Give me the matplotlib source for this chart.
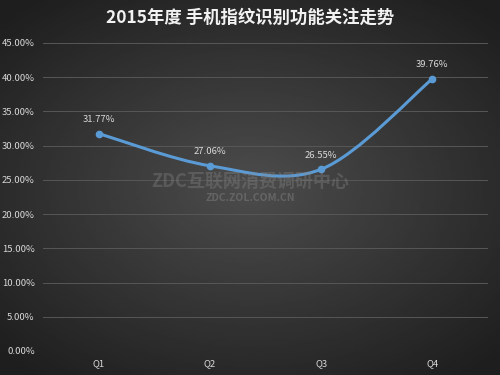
#!/usr/bin/env python3
"""
2015年度 手机指纹识别功能关注走势
"""
import matplotlib
matplotlib.use('Agg')
import matplotlib.pyplot as plt
import numpy as np
from matplotlib.path import Path
from matplotlib.patches import PathPatch

plt.rcParams['font.family'] = ['Noto Sans CJK SC', 'DejaVu Sans']

quarters = ['Q1', 'Q2', 'Q3', 'Q4']
share = [31.77, 27.06, 26.55, 39.76]
y_ticks = [0, 5, 10, 15, 20, 25, 30, 35, 40, 45]

LINE = '#5b9bd5'
TXT = '#d9d9d9'


def smooth_path(xs, ys, t=1 / 6):
    # Excel 風の平滑線 (Catmull-Rom -> Bezier)
    pts = list(zip(xs, ys))
    verts = [pts[0]]
    codes = [Path.MOVETO]
    n = len(pts)
    for i in range(n - 1):
        p0 = pts[i - 1] if i > 0 else pts[i]
        p1 = pts[i]
        p2 = pts[i + 1]
        p3 = pts[i + 2] if i + 2 < n else pts[i + 1]
        c1 = (p1[0] + (p2[0] - p0[0]) * t, p1[1] + (p2[1] - p0[1]) * t)
        c2 = (p2[0] - (p3[0] - p1[0]) * t, p2[1] - (p3[1] - p1[1]) * t)
        verts += [c1, c2, p2]
        codes += [Path.CURVE4] * 3
    return Path(verts, codes)


fig = plt.figure(figsize=(5, 3.75), dpi=100)

# 背景のグラデーション
bg = fig.add_axes([0, 0, 1, 1], zorder=0)
yy, xx = np.mgrid[-1:1:200j, -1:1:200j]
r = np.sqrt(xx ** 2 + (yy * 1.1) ** 2)
bg.imshow(0.30 - 0.18 * np.clip(r, 0, 1.4) / 1.4, cmap='gray', vmin=0, vmax=1,
          aspect='auto', extent=[0, 1, 0, 1])
bg.axis('off')

ax = fig.add_axes([43 / 500, 1 - 351 / 375, 445 / 500, 308 / 375], zorder=1)
ax.patch.set_alpha(0)
x = np.arange(len(quarters))

ax.add_patch(PathPatch(smooth_path(x, share), facecolor='none', edgecolor=LINE,
                       linewidth=2.2, zorder=3))
ax.plot(x, share, 'o', color=LINE, markersize=4.5, zorder=4)
for xi, v in zip(x, share):
    ax.annotate(f'{v:.2f}%', (xi, v), xytext=(0, 7), textcoords='offset points',
                ha='center', va='bottom', color=TXT, fontsize=6.8)

ax.set_xlim(-0.5, 3.5)
ax.set_ylim(0, 45)
ax.set_xticks(x)
ax.set_xticklabels(quarters)
ax.set_yticks(y_ticks)
ax.set_yticklabels([f'{v:.2f}%' for v in y_ticks])
ax.tick_params(colors=TXT, labelsize=6.8, length=0, pad=6)
ax.grid(axis='y', color='#575757', linewidth=0.7)
ax.set_axisbelow(True)
for s in ax.spines.values():
    s.set_visible(False)

fig.text(0.5, 1 - 18 / 375, '2015年度 手机指纹识别功能关注走势', ha='center',
         va='center', color='#f2f2f2', fontsize=12.5, fontweight='bold')

# 透かし
fig.text(0.5, 1 - 181 / 375, 'ZDC互联网消费调研中心', ha='center', va='center',
         color='#888888', alpha=0.35, fontsize=13, fontweight='bold')
fig.text(0.5, 1 - 198 / 375, 'ZDC.ZOL.COM.CN', ha='center', va='center',
         color='#888888', alpha=0.45, fontsize=7.5, fontweight='bold')

fig.savefig('out.png', dpi=100)
plt.close(fig)
